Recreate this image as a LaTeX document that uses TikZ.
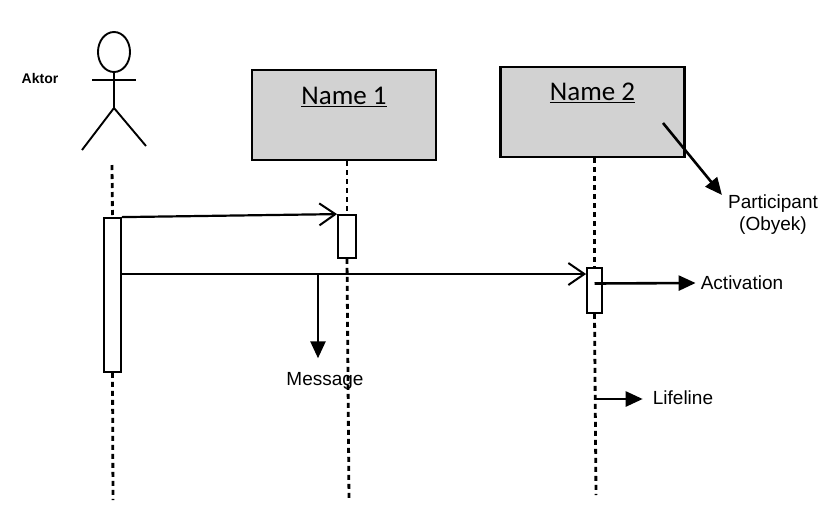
\documentclass[tikz,border=0pt]{standalone}
\usepackage{fontspec}
\setmainfont{Liberation Sans}
\newfontfamily\namefont{Carlito}
\usetikzlibrary{arrows.meta}

\tikzset{
	part/.style={draw, line width=2.6pt, fill=gray!35, minimum width=184pt, minimum height=90pt, inner sep=0pt},
	nametext/.style={font=\namefont\fontsize{27}{30}\selectfont, inner sep=0pt},
	actbox/.style={draw, line width=1.8pt, fill=white, inner sep=0pt},
	life/.style={line width=2.8pt, dash pattern=on 5pt off 4pt},
	msg/.style={line width=2.2pt, -{Straight Barb[length=16pt,width=22pt,line width=2pt]}},
	note/.style={line width=2.6pt, -{Triangle[length=17pt,width=15pt]}},
	lbl/.style={font=\fontsize{19}{22}\selectfont, inner sep=0pt, align=center}
}

\begin{document}
\begin{tikzpicture}[x=1pt, y=-1pt]
	\useasboundingbox (0,0) rectangle (825,523);
	% actor
	\draw[line width=1.9pt] (114,52) ellipse (16 and 20);
	\draw[line width=1.9pt] (92,80) -- (136,80);
	\draw[line width=1.9pt] (114,72) -- (114,108);
	\draw[line width=1.9pt] (82,150) -- (114,108) -- (146,146);
	\node[font=\bfseries\fontsize{14}{16}\selectfont, inner sep=0pt] (aktor) at (40,78) {Aktor};

	% participants
	\node[part] (n1) at (344,115) {};
	\node[nametext] (t1) at ([yshift=18pt]n1.center) {\underline{Name 1}};
	\node[part] (n2) at (592.5,112) {};
	\node[nametext] (t2) at ([yshift=19pt]n2.center) {\underline{Name 2}};

	% activations
	\node[actbox, minimum width=17pt, minimum height=154pt] (a0) at (112.5,295) {};
	\node[actbox, minimum width=18pt, minimum height=43pt] (a1) at (347,236.5) {};
	\node[actbox, minimum width=15pt, minimum height=45pt] (a2) at (594.5,290.5) {};

	% lifelines
	\coordinate (e0) at (113,500);
	\coordinate (e1) at (349,500);
	\coordinate (e2) at (596,495);
	\draw[life] (112,165) -- (a0.north);
	\draw[life] (a0.south) -- (e0);
	\draw[life] (n1.south -| a1) -- (a1.north);
	\draw[life] (a1.south) -- (e1);
	\draw[life] (n2.south -| a2) -- (a2.north);
	\draw[life] (a2.south) -- (e2);

	% messages
	\coordinate (m2) at (0,274);
	\draw[msg] (a0.north east) -- (a1.north west);
	\draw[msg] (a0.east |- m2) -- (a2.west |- m2);

	% labels
	\node[lbl] (lm) at (325,381) {Message};
	\node[lbl] (lp) at (773,215) {Participant\\(Obyek)};
	\node[lbl] (la) at (742,283) {Activation};
	\node[lbl] (lt) at (683,398) {Lifeline};
	\coordinate (mk) at (318,274);
	\coordinate (pk) at (663,123);
	\coordinate (lk) at (596,399);
	\draw[note] (mk) -- ([yshift=14pt]mk |- lm.north);
	\draw[note] (pk) -- ([xshift=-6pt]lp.north west);
	\draw[note] ([yshift=7pt]a2.center) -- ([xshift=-5pt]la.west);
	\draw[note] (lk) -- ([xshift=-10pt]lk -| lt.west);
\end{tikzpicture}
\end{document}
